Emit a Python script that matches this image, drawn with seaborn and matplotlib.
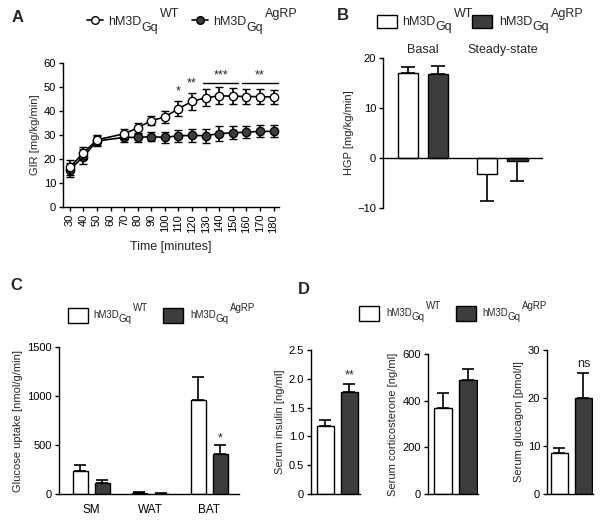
import numpy as np
import pandas as pd
import matplotlib
matplotlib.use("Agg")
import matplotlib.pyplot as plt
import seaborn as sns
from matplotlib.patches import Rectangle
from matplotlib.lines import Line2D

sns.set_theme(style="ticks")
plt.rcParams['font.family'] = ['Liberation Sans', 'DejaVu Sans']
plt.rcParams['axes.linewidth'] = 1.0
plt.rcParams['xtick.color'] = 'black'
plt.rcParams['ytick.color'] = 'black'
plt.rcParams['axes.edgecolor'] = 'black'

# ---------------- data ----------------
groups = ["WT", "AgRP"]
label_base = "hM3D"
label_sub = "Gq"
label_sups = ["WT", "AgRP"]

# Panel A: GIR time course
time_ticks = [30, 40, 50, 60, 70, 80, 90, 100, 110, 120, 130, 140, 150, 160, 170, 180]
time_pts = [30, 40, 50, 70, 80, 90, 100, 110, 120, 130, 140, 150, 160, 170, 180]
gir_wt = [16.5, 22.5, 28.0, 30.5, 33.0, 36.0, 37.5, 41.0, 44.0, 45.5, 46.3, 46.2, 46.0, 46.0, 45.8]
gir_wt_err = [3.0, 2.5, 2.0, 2.0, 2.0, 2.0, 2.5, 3.0, 3.5, 3.5, 3.5, 3.3, 3.0, 3.2, 3.0]
gir_agrp = [15.5, 21.0, 27.5, 29.0, 29.0, 29.3, 29.0, 29.7, 29.8, 29.7, 30.6, 30.9, 31.2, 31.5, 31.5]
gir_agrp_err = [3.0, 3.0, 2.0, 2.0, 2.0, 2.0, 2.3, 2.5, 2.7, 3.0, 3.0, 2.7, 2.5, 2.5, 2.5]

# Panel B: HGP
hgp_conditions = ["Basal", "Steady-state"]
hgp_wt = [17.0, -3.1]
hgp_wt_err = [1.3, 5.4]
hgp_agrp = [16.9, -0.5]
hgp_agrp_err = [1.6, 4.0]

# Panel C: glucose uptake
tissues = ["SM", "WAT", "BAT"]
uptake_wt = [235, 15, 960]
uptake_wt_err = [60, 4, 235]
uptake_agrp = [110, 5, 410]
uptake_agrp_err = [35, 2, 85]

# Panel D: serum hormones
insulin = [1.18, 1.77]
insulin_err = [0.11, 0.14]
cort = [370, 490]
cort_err = [65, 45]
glucagon = [8.6, 20.0]
glucagon_err = [1.0, 5.3]

WHITE = "white"
DARK = "#3d3d3d"
palette = {"WT": WHITE, "AgRP": DARK}

W, H = 604, 526
fig = plt.figure(figsize=(W / 100, H / 100), dpi=100)
renderer = fig.canvas.get_renderer()


def rect(l, r, t, b):
    return [l / W, (H - b) / H, (r - l) / W, (b - t) / H]


FS = 8


def style_ax(ax):
    ax.tick_params(labelsize=FS, length=3, width=1.0, pad=2, colors='black')
    for s in ["top", "right"]:
        ax.spines[s].set_visible(False)
    ax.set_facecolor("white")


def bar_errors(ax, vals, errs, capsize=4.5):
    patches = sorted(ax.patches, key=lambda p: p.get_x())
    for p, v, e in zip(patches, vals, errs):
        cx = p.get_x() + p.get_width() / 2
        yerr = [[0], [e]] if v >= 0 else [[e], [0]]
        ax.errorbar([cx], [v], yerr=yerr, fmt="none", ecolor="black",
                    elinewidth=1.2, capsize=capsize, capthick=1.2, zorder=1)


def fig_label(x, y, sup, fs, dsub, dsup, gap=2):
    """Draw hM3D_Gq^sup with baseline at pixel (x, y) from top-left."""
    t1 = fig.text(x / W, 1 - y / H, label_base, fontsize=fs, va="baseline", ha="left")
    x2 = t1.get_window_extent(renderer).x1
    t2 = fig.text(x2 / W, 1 - (y + dsub) / H, label_sub, fontsize=fs, va="baseline", ha="left")
    x3 = t2.get_window_extent(renderer).x1 + gap
    fig.text(x3 / W, 1 - (y - dsup) / H, sup, fontsize=fs, va="baseline", ha="left")


def box(x0, x1, y0, y1, color):
    fig.add_artist(Rectangle((x0 / W, 1 - y1 / H), (x1 - x0) / W, (y1 - y0) / H,
                             transform=fig.transFigure, facecolor=color, edgecolor="black", lw=1.0))


# ---------------- Panel A ----------------
axA = fig.add_axes(rect(63, 279, 63, 207))
style_ax(axA)
dfA = pd.DataFrame({
    "time": time_pts * 2,
    "gir": gir_wt + gir_agrp,
    "group": ["WT"] * len(time_pts) + ["AgRP"] * len(time_pts),
})
sns.lineplot(data=dfA, x="time", y="gir", hue="group", palette={"WT": "black", "AgRP": "black"},
             legend=False, ax=axA, linewidth=1.2, zorder=2)
axA.errorbar(time_pts, gir_agrp, yerr=gir_agrp_err, fmt="o", color="black", mfc=DARK, mec="black",
             ms=6, mew=1.0, ecolor="black", elinewidth=1.2, capsize=3, capthick=1.2, zorder=3)
axA.errorbar(time_pts, gir_wt, yerr=gir_wt_err, fmt="o", color="black", mfc="white", mec="black",
             ms=6, mew=1.0, ecolor="black", elinewidth=1.2, capsize=3, capthick=1.2, zorder=4)
axA.set_xlim(25, 184)
axA.set_ylim(0, 60)
axA.set_yticks([0, 10, 20, 30, 40, 50, 60])
axA.set_xticks(time_ticks)
axA.set_xticklabels([str(t) for t in time_ticks], rotation=90)
axA.set_xlabel("Time [minutes]", fontsize=FS + 1, labelpad=6)
axA.set_ylabel("GIR [mg/kg/min]", fontsize=FS, labelpad=3)
axA.text(110, 45.5, "*", ha="center", va="bottom", fontsize=FS + 1)
axA.text(120, 49.0, "**", ha="center", va="bottom", fontsize=FS + 1)
axA.plot([128, 154], [51.8, 51.8], color="black", lw=1.0)
axA.plot([157, 183.5], [51.8, 51.8], color="black", lw=1.0)
axA.text(141, 52.3, "***", ha="center", va="bottom", fontsize=FS + 1)
axA.text(170, 52.3, "**", ha="center", va="bottom", fontsize=FS + 1)
# legend A
for (x0, x1, fc, tx, sup) in [(87, 103, "white", 108, "WT"), (192, 208, DARK, 213, "AgRP")]:
    fig.add_artist(Line2D([x0 / W, x1 / W], [1 - 20 / H] * 2, transform=fig.transFigure,
                          color="black", lw=1.2))
    fig.add_artist(Line2D([(x0 + x1) / 2 / W], [1 - 20 / H], transform=fig.transFigure,
                          marker="o", ms=5.5, mfc=fc, mec="black", mew=1.0, lw=0))
    fig_label(tx, 25, sup, 9, 6, 8)
fig.text(12 / W, 1 - 17 / H, "A", fontsize=12, fontweight="bold", va="center")

# ---------------- Panel B ----------------
axB = fig.add_axes(rect(383, 542, 58, 208))
style_ax(axB)
dfB = pd.DataFrame({
    "cond": hgp_conditions * 2,
    "val": hgp_wt + hgp_agrp,
    "group": ["WT"] * 2 + ["AgRP"] * 2,
})
sns.barplot(data=dfB, x="cond", y="val", hue="group", hue_order=groups, palette=palette,
            edgecolor="black", linewidth=1.0, width=0.755, gap=0.333, errorbar=None,
            legend=False, ax=axB, zorder=2)
bvals = [hgp_wt[0], hgp_agrp[0], hgp_wt[1], hgp_agrp[1]]
berrs = [hgp_wt_err[0], hgp_agrp_err[0], hgp_wt_err[1], hgp_agrp_err[1]]
bar_errors(axB, bvals, berrs, capsize=5)
axB.set_ylim(-10, 20)
axB.set_yticks([-10, 0, 10, 20])
axB.set_xlim(-0.503, 1.497)
axB.spines["bottom"].set_position(("data", 0))
axB.tick_params(axis="x", bottom=False, labelbottom=False)
axB.set_xlabel("")
axB.set_ylabel("HGP [mg/kg/min]", fontsize=FS, labelpad=2)
for i, c in enumerate(hgp_conditions):
    axB.text(i, 20, c, ha="center", va="center", fontsize=FS + 1,
             transform=axB.transData).set_y(21.6)
box(377, 397, 15, 28, "white")
fig_label(402, 25, "WT", 9, 5, 8)
box(472, 492, 15, 28, DARK)
fig_label(499, 25, "AgRP", 9, 5, 8)
fig.text(337 / W, 1 - 15 / H, "B", fontsize=12, fontweight="bold", va="center")

# ---------------- Panel C ----------------
axC = fig.add_axes(rect(59, 239, 347, 494))
style_ax(axC)
dfC = pd.DataFrame({
    "tissue": tissues * 2,
    "val": uptake_wt + uptake_agrp,
    "group": ["WT"] * 3 + ["AgRP"] * 3,
})
sns.barplot(data=dfC, x="tissue", y="val", hue="group", hue_order=groups, palette=palette,
            edgecolor="black", linewidth=1.0, width=0.745, gap=0.32, errorbar=None,
            legend=False, ax=axC, zorder=2)
cvals = [uptake_wt[0], uptake_agrp[0], uptake_wt[1], uptake_agrp[1], uptake_wt[2], uptake_agrp[2]]
cerrs = [uptake_wt_err[0], uptake_agrp_err[0], uptake_wt_err[1], uptake_agrp_err[1],
         uptake_wt_err[2], uptake_agrp_err[2]]
bar_errors(axC, cvals, cerrs, capsize=4.5)
axC.set_ylim(0, 1500)
axC.set_yticks([0, 500, 1000, 1500])
axC.set_xlim(-0.547, 2.504)
axC.tick_params(axis="x", bottom=False, pad=4, labelsize=FS + 0.5)
axC.set_xlabel("")
axC.set_ylabel("Glucose uptake [nmol/g/min]", fontsize=FS, labelpad=3)
pc = sorted(axC.patches, key=lambda p: p.get_x())[5]
axC.text(pc.get_x() + pc.get_width() / 2, uptake_agrp[2] + uptake_agrp_err[2] + 10, "*",
         ha="center", va="bottom", fontsize=FS + 1)
box(68, 88, 308, 323, "white")
fig_label(93, 318, "WT", 7, 4, 7, gap=1)
box(163, 183, 308, 323, DARK)
fig_label(190, 318, "AgRP", 7, 4, 7, gap=1)
fig.text(10 / W, 1 - 285 / H, "C", fontsize=12, fontweight="bold", va="center")


# ---------------- Panel D ----------------
def small_bar(r, vals, errs, ylim, yticks, ylabel, xlim, ticklabels=None, sig=None):
    ax = fig.add_axes(r)
    style_ax(ax)
    df = pd.DataFrame({"group": groups, "val": vals})
    sns.barplot(data=df, x="group", y="val", hue="group", hue_order=groups, order=groups,
                palette=palette, edgecolor="black", linewidth=1.0, width=0.71,
                errorbar=None, legend=False, ax=ax, zorder=2)
    bar_errors(ax, vals, errs, capsize=4)
    ax.set_ylim(*ylim)
    ax.set_yticks(yticks)
    if ticklabels is not None:
        ax.set_yticklabels(ticklabels)
    ax.set_xlim(*xlim)
    ax.tick_params(axis="x", bottom=False, labelbottom=False)
    ax.set_xlabel("")
    ax.set_ylabel(ylabel, fontsize=FS, labelpad=3)
    if sig:
        ax.text(1, vals[1] + errs[1] + 0.02 * (ylim[1] - ylim[0]), sig, ha="center",
                va="bottom", fontsize=FS + 1)
    return ax


small_bar(rect(311, 360, 350, 494), insulin, insulin_err, (0, 2.5), [0, 0.5, 1.0, 1.5, 2.0, 2.5],
          "Serum insulin [ng/ml]", (-0.6, 1.44), ["0", "0.5", "1.0", "1.5", "2.0", "2.5"], sig="**")
small_bar(rect(428, 478, 354, 494), cort, cort_err, (0, 600), [0, 200, 400, 600],
          "Serum corticosterone [ng/ml]", (-0.6, 1.4))
small_bar(rect(547, 593, 350, 494), glucagon, glucagon_err, (0, 30), [0, 10, 20, 30],
          "Serum glucagon [pmol/l]", (-0.52, 1.4), sig="ns")
box(359, 379, 306, 321, "white")
fig_label(386, 316, "WT", 7, 4, 7, gap=1)
box(456, 476, 306, 321, DARK)
fig_label(482, 316, "AgRP", 7, 4, 7, gap=1)
fig.text(298 / W, 1 - 290 / H, "D", fontsize=12, fontweight="bold", va="center")

fig.savefig("out.png", dpi=100, facecolor="white")
